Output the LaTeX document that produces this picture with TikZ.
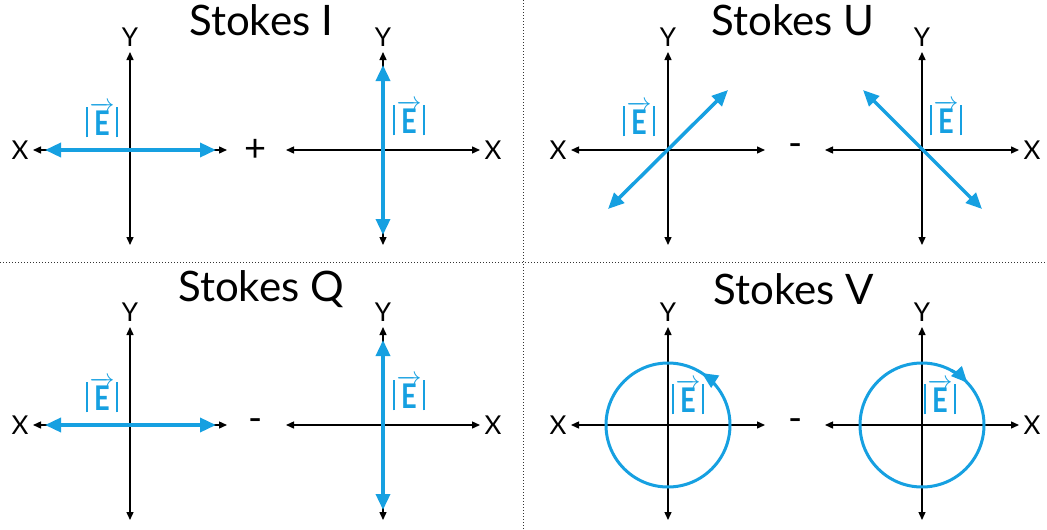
\documentclass[tikz,border=0pt]{standalone}
\usepackage{fontspec}
\usepackage{graphicx}
\setmainfont{Lato}
\usetikzlibrary{arrows.meta}
\definecolor{eblue}{RGB}{22,160,225}
\tikzset{
  axis/.style={black, line width=1.4pt, {Triangle[length=8pt,width=7pt]}-{Triangle[length=8pt,width=7pt]}},
  evec/.style={eblue, line width=3.5pt, {Triangle[length=16pt,width=14pt]}-{Triangle[length=16pt,width=14pt]}},
  eline/.style={eblue, line width=3pt},
  lab/.style={font=\fontsize{26}{26}\selectfont, inner sep=0pt},
  ttl/.style={font=\fontsize{42}{42}\selectfont, inner sep=0pt},
  opr/.style={font=\fontsize{38}{38}\selectfont, inner sep=0pt},
  elab/.style={inner sep=0pt, text=eblue},
  divider/.style={black!80, line width=1pt, dotted},
}
\newcommand{\Emag}{{\color{eblue}\raisebox{-2pt}{\rule{1.6pt}{30pt}}\hspace{1.5pt}{\fontsize{34}{34}\selectfont\bfseries$\overrightarrow{\hbox{\scalebox{0.8}[1]{\bfseries E}}}$}\hspace{1.5pt}\raisebox{-2pt}{\rule{1.6pt}{30pt}}}}
\newcommand{\axset}[4]{%
  \coordinate (#1) at (#2,#3);
  \coordinate (#1W) at ({#2-97},#3);
  \coordinate (#1E) at ({#2+97},#3);
  \coordinate (#1N) at (#2,{#3-98});
  \coordinate (#1S) at (#2,{#3+95});
  \draw[axis] (#1W) -- (#1E);
  \draw[axis] (#1N) -- (#1S);
  \node[lab] (#1Y) at (#2,{#3-113}) {Y};
  \node[lab] (#1X) at ({#2+#4*110},#3) {X};
}
\begin{document}
\begin{tikzpicture}[x=1pt,y=-1pt]
\useasboundingbox (0,0) rectangle (1047,530);
% dividers
\coordinate (dL) at (0,262);
\coordinate (dR) at (1047,262);
\coordinate (dT) at (523,0);
\coordinate (dB) at (523,530);
\draw[divider] (dL) -- (dR);
\draw[divider] (dT) -- (dB);
% titles
\node[ttl] (tI) at (261,20) {Stokes I};
\node[ttl] (tU) at (793,20) {Stokes U};
\node[ttl] (tQ) at (261,289) {Stokes Q};
\node[ttl] (tV) at (794,289) {Stokes V};
% axes
\axset{Il}{130}{150}{-1}
\axset{Ir}{383}{150}{1}
\axset{Ul}{668}{150}{-1}
\axset{Ur}{922}{150}{1}
\axset{Ql}{130}{425}{-1}
\axset{Qr}{383}{425}{1}
\axset{Vl}{668}{425}{-1}
\axset{Vr}{922}{425}{1}
% operators
\node[opr] (oI) at (256,150) {+};
\node[opr] (oU) at (796,150) {-};
\node[opr] (oQ) at (256,425) {-};
\node[opr] (oV) at (796,425) {-};
% Stokes I
\coordinate (a1) at (45,150); \coordinate (a2) at (216,150);
\draw[evec] (a1) -- (a2);
\coordinate (b1) at (383,65); \coordinate (b2) at (383,235);
\draw[evec] (b1) -- (b2);
\node[elab] (eIl) at (102,120) {\Emag};
\node[elab] (eIr) at (409,118) {\Emag};
% Stokes U
\coordinate (c1) at (608,209); \coordinate (c2) at (728,90);
\draw[evec] (c1) -- (c2);
\coordinate (d1) at (863,90); \coordinate (d2) at (982,209);
\draw[evec] (d1) -- (d2);
\node[elab] (eUl) at (639,119) {\Emag};
\node[elab] (eUr) at (946,118) {\Emag};
% Stokes Q
\coordinate (e1) at (45,425); \coordinate (e2) at (216,425);
\draw[evec] (e1) -- (e2);
\coordinate (f1) at (383,340); \coordinate (f2) at (383,510);
\draw[evec] (f1) -- (f2);
\node[elab] (eQl) at (102,395) {\Emag};
\node[elab] (eQr) at (409,393) {\Emag};
% Stokes V
\draw[eline] (Vl) circle[radius=62];
\draw[eline, -{Triangle[length=16pt,width=14pt]}] ([shift={(Vl)}]-40:62) arc[start angle=-40,end angle=-57,radius=62];
\draw[eline] (Vr) circle[radius=62];
\draw[eline, -{Triangle[length=16pt,width=14pt]}] ([shift={(Vr)}]-62:62) arc[start angle=-62,end angle=-43,radius=62];
\node[elab] (eVl) at (688,397) {\Emag};
\node[elab] (eVr) at (940,397) {\Emag};
\end{tikzpicture}
\end{document}
